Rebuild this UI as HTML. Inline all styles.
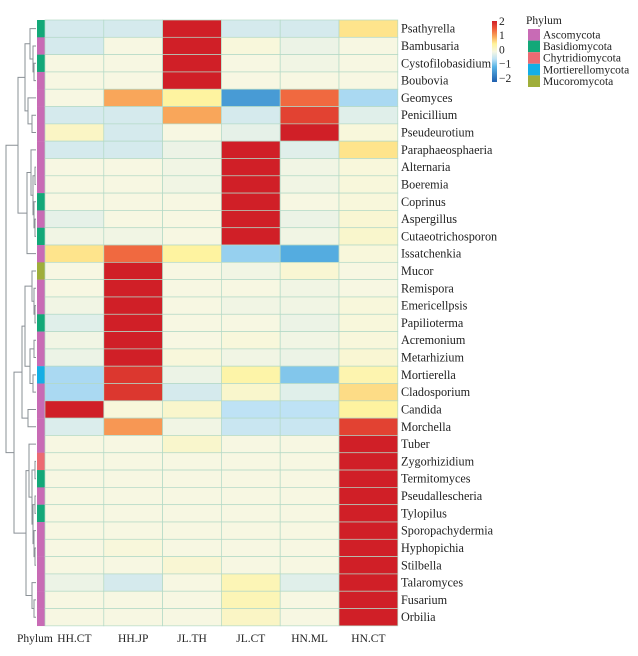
<!DOCTYPE html>
<html><head><meta charset="utf-8">
<style>
body{margin:0;background:#fff;width:638px;height:651px;overflow:hidden;font-family:"Liberation Serif",serif;}
svg text{font-family:"Liberation Serif",serif;}
</style></head>
<body>
<svg id="chart" width="638" height="651" xmlns="http://www.w3.org/2000/svg">
<defs><linearGradient id="cg" x1="0" y1="1" x2="0" y2="0"></linearGradient></defs>
<g id="dendro"></g>
<g id="phy"></g>
<g id="cells"></g>
<g id="rlabels"></g>
<g id="clabels"></g>
<g id="legend"></g>
</svg>
<script>
const columns=["HH.CT","HH.JP","JL.TH","JL.CT","HN.ML","HN.CT"];
const genera=["Psathyrella","Bambusaria","Cystofilobasidium","Boubovia","Geomyces","Penicillium","Pseudeurotium","Paraphaeosphaeria","Alternaria","Boeremia","Coprinus","Aspergillus","Cutaeotrichosporon","Issatchenkia","Mucor","Remispora","Emericellpsis","Papiliotermа","Acremonium","Metarhizium","Mortierella","Cladosporium","Candida","Morchella","Tuber","Zygorhizidium","Termitomyces","Pseudallescheria","Tylopilus","Sporopachydermia","Hyphopichia","Stilbella","Talaromyces","Fusarium","Orbilia"];
const phylumOf=[1,0,1,0,0,0,0,0,0,0,1,0,1,0,4,0,0,1,0,0,3,0,0,0,0,2,1,0,1,0,0,0,0,0,0];
const phylumNames=["Ascomycota","Basidiomycota","Chytridiomycota","Mortierellomycota","Mucoromycota"];
const phylumColors=["#c86bb5","#13a878","#ec6a72","#14aee5","#9fae3a"];
const values=[
[-0.3,-0.3,2.1,-0.3,-0.3,0.6],
[-0.3,0,2,0.05,-0.1,0],
[0,0,2,0,-0.05,0],
[0,0,2,0,0,0],
[0,1.0,0.45,-1.3,1.4,-0.6],
[-0.3,-0.3,1.0,-0.3,1.7,-0.2],
[0.2,-0.3,0,-0.15,2,0.05],
[-0.3,-0.3,-0.1,2.1,-0.2,0.6],
[0,0,-0.05,2,-0.05,0.05],
[0,0,-0.05,2,-0.05,0.05],
[0,0,0,2,0,0.05],
[-0.15,0,0,2,-0.1,0.1],
[-0.05,-0.05,0,2,-0.05,0.15],
[0.6,1.4,0.45,-0.7,-1.1,0.05],
[0,2,0,-0.05,0.1,0],
[0,2,0,0,-0.05,0],
[-0.05,2,0,-0.05,-0.05,0.05],
[-0.2,2,0,0,-0.1,0.05],
[-0.05,2,0,0.05,-0.05,0.05],
[-0.1,2,0.05,-0.05,-0.1,0.1],
[-0.6,1.8,-0.1,0.4,-0.8,0.35],
[-0.6,1.8,-0.3,0.15,-0.2,0.65],
[2,0.05,0.15,-0.5,-0.5,0.45],
[-0.25,1.1,-0.05,-0.4,-0.4,1.7],
[0,0,0.15,0,0,2],
[0,0,0,0,0,2],
[0,0,0,0,0,2],
[0,0,0,0,0,2],
[0,0,0,0,0,2],
[0,0,0,0,0,2],
[0,0.05,0,0,0,2],
[0,0,0.1,0,0,2],
[-0.1,-0.3,0,0.3,-0.2,2],
[0,0,0,0.3,0,2],
[0,0,0,0.2,0,2]];
const legendTicks=["2","1","0","\u22121","\u22122"];
const A1=[0,[1,[2,3,34],33],30];
const A2=[4,[5,6,32],28];
const A3=[7,[[8,9,35],[10,[11,12,35],34],33],31];
const A=[[A1,A2,25],[A3,13,27],18];
const B1=[14,[15,[16,17,35],34],32];
const B1b=[[18,19,34],[20,21,33],30];
const Bx=[[B1,B1b,25],[22,23,28],22];
const B3=[24,[[25,26,35],[[27,28,35],[29,[30,31,35],34],33],32],29];
const B4=[32,[33,34,34],32];
const B=[Bx,[B3,B4,26],14];
const tree=[A,B,6];

const X0=45,Y0=20,CW=58.8,RH=17.31;
const NS="http://www.w3.org/2000/svg";
function mk(tag,attrs,parent){const e=document.createElementNS(NS,tag);for(const k in attrs)e.setAttribute(k,attrs[k]);parent.appendChild(e);return e;}
const xS=i=>X0+i*CW, yS=r=>Y0+r*RH;
const stops=[[-2,[31,95,174]],[-1,[90,180,229]],[-0.5,[190,226,245]],[0,[247,247,226]],[0.5,[255,243,153]],[1,[249,166,90]],[1.5,[238,90,58]],[2,[208,31,39]]];
function col(v){v=Math.max(-2,Math.min(2,v));for(let i=0;i<stops.length-1;i++){const a=stops[i],b=stops[i+1];if(v<=b[0]){const t=(v-a[0])/(b[0]-a[0]);return "rgb("+a[1].map((c,k)=>Math.round(c+(b[1][k]-c)*t)).join(",")+")";}}return "rgb(208,31,39)";}
const cells=document.getElementById('cells');
values.forEach((row,r)=>row.forEach((v,c)=>{
 const e=mk('rect',{x:xS(c),y:yS(r),width:CW,height:RH,fill:col(v),stroke:"#b3d9c6","stroke-width":0.7},cells);
 
 
}));
const phy=document.getElementById('phy');
phylumOf.forEach((p,r)=>{
 const e=mk('rect',{x:37,y:yS(r),width:8,height:RH+0.2,fill:phylumColors[p]},phy);
 
 
});
const rl=document.getElementById('rlabels');
genera.forEach((g,r)=>{
 const t=mk('text',{x:401,y:yS(r)+RH/2+4,"font-size":12.2,fill:"#222"},rl);t.textContent=g;
 
 
});
const cl=document.getElementById('clabels');
const ph=mk('text',{x:17,y:642,"font-size":11.5,fill:"#222"},cl);ph.textContent="Phylum";


columns.forEach((c,i)=>{
 const t=mk('text',{x:xS(i)+CW/2,y:642,"font-size":11.5,fill:"#222","text-anchor":"middle"},cl);t.textContent=c;
 
 
});
const dg=document.getElementById('dendro');
function draw(n){
 if(typeof n==='number')return {y:yS(n)+RH/2,x:36};
 const a=draw(n[0]),b=draw(n[1]),x=n[2];
 const p=mk('path',{d:"M"+a.x+","+a.y+"H"+x+"V"+b.y+"H"+b.x,fill:"none",stroke:"#8a9096","stroke-width":1},dg);
 
 
 return {x:x,y:(a.y+b.y)/2};
}
try{draw(tree);}catch(e){}
const lg=document.getElementById('legend');
const gr=document.getElementById('cg');
stops.forEach(s=>mk('stop',{offset:(s[0]+2)/4,"stop-color":col(s[0])},gr));
const cb=mk('rect',{x:492,y:21,width:5,height:61,fill:"url(#cg)"},lg);


legendTicks.forEach((t,i)=>{
 const e=mk('text',{x:499,y:25+i*14.2,"font-size":11.5,fill:"#222"},lg);e.textContent=t;
 
 
});
const lt=mk('text',{x:526,y:24,"font-size":11.5,fill:"#222"},lg);lt.textContent="Phylum";


phylumNames.forEach((n,i)=>{
 const r=mk('rect',{x:528,y:29+i*11.6,width:12,height:11.6,fill:phylumColors[i]},lg);
 
 
 const t=mk('text',{x:543,y:38.5+i*11.6,"font-size":11.5,fill:"#222"},lg);t.textContent=n;
 
 
});
</script>
</body></html>
